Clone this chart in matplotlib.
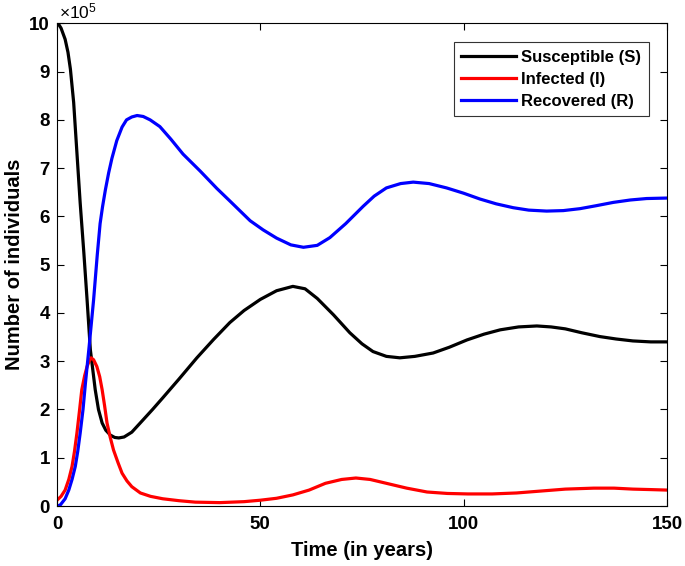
import matplotlib

matplotlib.use("Agg")
import matplotlib.pyplot as plt

plt.rcParams["font.family"] = ["Liberation Sans", "DejaVu Sans"]
plt.rcParams["mathtext.default"] = "regular"

# values, in units of 1e5 individuals
t_s = [0, 0.4, 1, 2, 2.7, 3.3, 4.1, 4.9, 5.7, 6.6, 7.4, 8.2, 9.4, 10.2, 11.1, 12,
       13.1, 14.2, 15.2, 16.5, 18.4, 20.9, 23.5, 26, 30, 34.4, 38.5, 42.5, 46, 50,
       54, 58, 61, 64, 68, 72, 75, 77.7, 81, 84.3, 88, 92.5, 96.5, 100.8, 105, 109,
       113.5, 118, 121.5, 125, 129, 133.5, 137.5, 141.6, 146, 150]
s = [10, 9.98, 9.9, 9.67, 9.4, 9.05, 8.36, 7.32, 6.28, 5.25, 4.27, 3.24, 2.41, 2.0,
     1.72, 1.57, 1.47, 1.42, 1.41, 1.43, 1.53, 1.76, 2.0, 2.24, 2.63, 3.07, 3.45, 3.8,
     4.05, 4.28, 4.46, 4.55, 4.50, 4.30, 3.96, 3.59, 3.36, 3.2, 3.10, 3.07, 3.10, 3.17,
     3.29, 3.44, 3.56, 3.65, 3.71, 3.73, 3.71, 3.67, 3.59, 3.51, 3.46, 3.42, 3.40, 3.40]

t_i = [0, 1, 2, 2.9, 3.7, 4.3, 4.9, 5.5, 6.1, 6.8, 7.4, 7.9, 8.4, 9.0, 9.8, 10.5,
       11.1, 11.7, 12.3, 13.1, 13.9, 15, 16, 17.2, 18.4, 20.5, 23, 26, 30, 34, 40, 46,
       50, 54, 58, 62, 66, 70, 73.5, 77, 81, 86, 91, 96, 101, 107, 113, 119, 125, 132,
       137, 141.6, 146, 150]
i = [0.12, 0.2, 0.33, 0.55, 0.82, 1.13, 1.51, 1.95, 2.41, 2.7, 2.89, 3.0, 3.07, 3.03,
     2.89, 2.68, 2.41, 2.08, 1.72, 1.42, 1.16, 0.9, 0.68, 0.52, 0.4, 0.27, 0.2, 0.15,
     0.11, 0.08, 0.07, 0.09, 0.12, 0.16, 0.23, 0.33, 0.47, 0.55, 0.58, 0.55, 0.47, 0.37,
     0.29, 0.26, 0.25, 0.25, 0.27, 0.31, 0.35, 0.37, 0.37, 0.35, 0.34, 0.33]

t_r = [0, 0.8, 2, 2.9, 3.7, 4.5, 5.1, 5.7, 6.4, 7.0, 7.9, 9.0, 9.9, 10.6, 11.2, 11.9,
       12.7, 13.5, 14.7, 16, 17.1, 18.4, 19.7, 21.2, 22.9, 25.3, 28, 31, 35.2, 39.3,
       42.5, 47.5, 50.7, 54, 57.5, 60.6, 64, 67.1, 71, 75.3, 78, 81, 84.5, 87.6, 91.5,
       95.8, 100, 104, 108, 112.2, 116, 120.4, 124.5, 128.6, 132.5, 136.8, 141, 145, 150]
r = [0, 0.02, 0.15, 0.33, 0.55, 0.82, 1.13, 1.51, 2.0, 2.55, 3.3, 4.27, 5.2, 5.85, 6.2,
     6.55, 6.9, 7.2, 7.57, 7.85, 8.0, 8.06, 8.09, 8.07, 8.0, 7.86, 7.6, 7.29, 6.94, 6.58,
     6.32, 5.91, 5.72, 5.55, 5.41, 5.36, 5.4, 5.56, 5.85, 6.21, 6.42, 6.59, 6.68, 6.71,
     6.68, 6.59, 6.48, 6.36, 6.26, 6.18, 6.13, 6.11, 6.12, 6.16, 6.22, 6.29, 6.34, 6.37,
     6.38]

fig = plt.figure(figsize=(6.85, 5.66), dpi=100)
ax = fig.add_axes([0.0832, 0.106, 0.8905, 0.8528])

ax.plot(t_s, s, color="black", lw=2.3, label="Susceptible (S)")
ax.plot(t_i, i, color="red", lw=2.3, label="Infected (I)")
ax.plot(t_r, r, color="blue", lw=2.3, label="Recovered (R)")

ax.set_xlim(0, 150)
ax.set_ylim(0, 10)
ax.set_xticks([0, 50, 100, 150])
ax.set_yticks(range(11))
ax.text(0.003, 1.005, r"$\times10^{5}$", transform=ax.transAxes, fontsize=12.5,
        ha="left", va="bottom")

ax.tick_params(direction="in", top=True, right=True, length=5, width=0.8,
               labelsize=13.5)
ax.tick_params(axis="x", pad=7)
ax.tick_params(axis="y", pad=5)
for lab in ax.get_xticklabels() + ax.get_yticklabels():
    lab.set_fontweight("bold")
for sp in ax.spines.values():
    sp.set_linewidth(0.8)

ax.set_xlabel("Time (in years)", fontsize=14.5, fontweight="bold", labelpad=6)
ax.set_ylabel("Number of individuals", fontsize=14.5, fontweight="bold", labelpad=4)

leg = ax.legend(loc="upper right", bbox_to_anchor=(0.970, 0.961), borderaxespad=0,
                fontsize=12, fancybox=False, framealpha=1, edgecolor="#333333",
                handlelength=3.3, handletextpad=0.3, borderpad=0.45,
                labelspacing=0.42)
leg.get_frame().set_linewidth(0.8)
for txt in leg.get_texts():
    txt.set_fontweight("bold")

fig.savefig("out.png", dpi=100)
